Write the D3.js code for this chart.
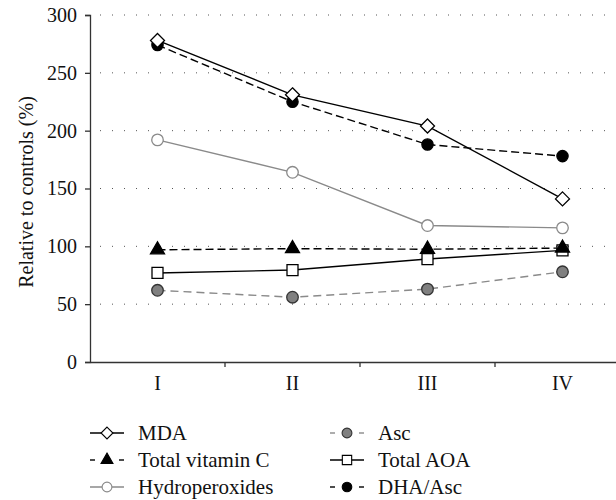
<!DOCTYPE html>
<html>
<head>
<meta charset="utf-8">
<script src="https://cdn.jsdelivr.net/npm/d3@7"></script>
<style>
  body { margin: 0; background: #fff; }
  text { font-family: "Liberation Serif", "DejaVu Serif", serif; }
</style>
</head>
<body>
<div class="chart"></div>
<script>
const groups = ["I", "II", "III", "IV"];
const yTicks = [0, 50, 100, 150, 200, 250, 300];

const mda = [278, 231, 204, 141];
const totalVitC = [97, 98, 97.5, 98.5];
const hydroperoxides = [192, 164, 118, 116];
const asc = [62, 56, 63, 78];
const totalAoa = [77, 79.5, 89, 96.5];
const dhaAsc = [274, 225, 188, 178];

const width = 616;
const height = 500;

const series = [
  { name: "MDA", values: mda, stroke: "#000", dash: null, shape: "diamond", fill: "#fff", mstroke: "#000" },
  { name: "Total vitamin C", values: totalVitC, stroke: "#000", dash: "8,4", shape: "triangle", fill: "#000", mstroke: "#000" },
  { name: "Hydroperoxides", values: hydroperoxides, stroke: "#8a8a8a", dash: null, shape: "circle", fill: "#fff", mstroke: "#8a8a8a" },
  { name: "Asc", values: asc, stroke: "#8a8a8a", dash: "8,5", shape: "circle", fill: "#808080", mstroke: "#333" },
  { name: "Total AOA", values: totalAoa, stroke: "#000", dash: null, shape: "square", fill: "#fff", mstroke: "#000" },
  { name: "DHA/Asc", values: dhaAsc, stroke: "#000", dash: "8,4", shape: "bigcircle", fill: "#000", mstroke: "#000" }
];

const svg = d3
  .select(".chart")
  .append("svg")
  .attr("width", width)
  .attr("height", height);

const x = d3.scaleBand().domain(groups).range([90, 630]);
const y = d3.scaleLinear().domain([0, 300]).range([362, 15]);

// dotted grid
svg
  .append("g")
  .selectAll("line")
  .data(yTicks.filter(d => d > 0))
  .enter()
  .append("line")
  .attr("x1", 100)
  .attr("x2", 613)
  .attr("y1", d => y(d))
  .attr("y2", d => y(d))
  .attr("stroke", "#555")
  .attr("stroke-width", 1)
  .attr("stroke-dasharray", "1,11");

// y axis
const yAxis = svg
  .append("g")
  .attr("transform", "translate(90,0)")
  .call(d3.axisLeft(y).tickValues(yTicks).tickSize(5).tickPadding(8));
yAxis.selectAll("text").attr("font-size", 20).attr("fill", "#111");
yAxis.selectAll("line, path").attr("stroke", "#333").attr("stroke-width", 1.3);

// x axis
const xAxis = svg
  .append("g")
  .attr("transform", "translate(0,362)")
  .call(d3.axisBottom(x).tickSize(0).tickPadding(14));
xAxis.select(".domain").attr("stroke", "#333").attr("stroke-width", 1.3);
xAxis.selectAll("text").attr("font-size", 20).attr("fill", "#111");
svg
  .append("g")
  .selectAll("line")
  .data(groups.slice(1))
  .enter()
  .append("line")
  .attr("x1", d => x(d))
  .attr("x2", d => x(d))
  .attr("y1", 362)
  .attr("y2", 367)
  .attr("stroke", "#333")
  .attr("stroke-width", 1.3);

svg
  .append("text")
  .attr("transform", "rotate(-90)")
  .attr("x", -192)
  .attr("y", 33)
  .attr("text-anchor", "middle")
  .attr("font-size", 20)
  .attr("fill", "#111")
  .text("Relative to controls (%)");

const markerPath = shape => {
  if (shape === "diamond") return "M0,-7L7,0L0,7L-7,0Z";
  if (shape === "triangle") return d3.symbol(d3.symbolTriangle, 85)();
  if (shape === "square") return "M-5.5,-5.5H5.5V5.5H-5.5Z";
  if (shape === "bigcircle") return d3.symbol(d3.symbolCircle, 100)();
  return d3.symbol(d3.symbolCircle, 105)();
};

const line = d3
  .line()
  .x((d, i) => x(groups[i]) + x.bandwidth() / 2)
  .y(d => y(d));

const draw = [2, 3, 4, 1, 5, 0];

svg
  .append("g")
  .selectAll("path")
  .data(draw.map(i => series[i]))
  .enter()
  .append("path")
  .attr("d", s => line(s.values))
  .attr("fill", "none")
  .attr("stroke", s => s.stroke)
  .attr("stroke-width", 1.4)
  .attr("stroke-dasharray", s => s.dash);

draw.forEach(i => {
  const s = series[i];
  svg
    .append("g")
    .selectAll("path")
    .data(s.values)
    .enter()
    .append("path")
    .attr("d", markerPath(s.shape))
    .attr("transform", (d, j) => `translate(${x(groups[j]) + x.bandwidth() / 2},${y(d)})`)
    .attr("fill", s.fill)
    .attr("stroke", s.mstroke)
    .attr("stroke-width", 1.3);
});

// legend
const legend = svg.append("g");
series.forEach((s, i) => {
  const cx = i < 3 ? 107 : 347;
  const cy = 433 + (i % 3) * 27;
  const g = legend.append("g").attr("transform", `translate(${cx},${cy})`);
  if (s.dash) {
    [[-17, -12], [12, 17]].forEach(seg => {
      g.append("line")
        .attr("x1", seg[0]).attr("x2", seg[1])
        .attr("stroke", s.stroke).attr("stroke-width", 1.4);
    });
  } else {
    g.append("line")
      .attr("x1", -17).attr("x2", 17)
      .attr("stroke", s.stroke).attr("stroke-width", 1.4);
  }
  g.append("path")
    .attr("d", markerPath(s.shape))
    .attr("transform", "scale(0.85)")
    .attr("fill", s.fill)
    .attr("stroke", s.mstroke)
    .attr("stroke-width", 1.3);
  g.append("text")
    .attr("x", 31)
    .attr("dy", "0.35em")
    .attr("font-size", 21)
    .attr("fill", "#111")
    .text(s.name);
});
</script>
</body>
</html>
